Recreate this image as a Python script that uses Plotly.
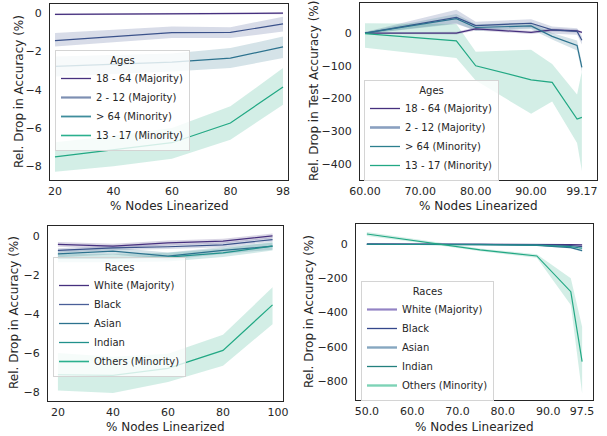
import plotly.graph_objects as go

# ---------------- data ----------------
ages_names = ["18 - 64 (Majority)", "2 - 12 (Majority)", "> 64 (Minority)", "13 - 17 (Minority)"]
race_names = ["White (Majority)", "Black", "Asian", "Indian", "Others (Minority)"]

# Panel A: Ages, accuracy drop
a_x = [20, 40, 60, 80, 98]
a_1864 = [-0.06, -0.05, -0.02, -0.03, 0.0]
a_1864_lo = [-0.11, -0.10, -0.07, -0.08, -0.05]
a_1864_hi = [-0.01, 0.0, 0.03, 0.02, 0.05]
a_212 = [-1.43, -1.22, -1.01, -1.0, -0.56]
a_212_lo = [-1.74, -1.52, -1.30, -1.30, -0.96]
a_212_hi = [-1.04, -0.87, -0.70, -0.73, -0.18]
a_64 = [-2.78, -2.66, -2.55, -2.34, -1.76]
a_64_lo = [-3.30, -3.17, -3.04, -2.86, -2.34]
a_64_hi = [-2.26, -2.18, -2.10, -1.82, -1.22]
a_1317 = [-7.5, -7.12, -6.76, -5.73, -3.85]
a_1317_lo = [-8.28, -7.99, -7.6, -6.6, -4.78]
a_1317_hi = [-6.74, -6.39, -5.99, -4.86, -2.86]

# Panel B: Ages, test accuracy drop
b_x = [60, 76.5, 80, 90, 93.8, 98.3, 99.17]
b_1864 = [0, 0, 13, 2, 10, 7, 2]
b_1864_lo = [-2, -4, 8, -3, 5, 2, -1]
b_1864_hi = [2, 4, 18, 7, 15, 12, 5]
b_212 = [0, 48, 23, 30, 10, 5, -22]
b_212_lo = [-3, 28, 8, 15, -2, -5, -35]
b_212_hi = [3, 71, 35, 42, 20, 15, -10]
b_64 = [0, 44, 17, 22, -10, -38, -105]
b_64_lo = [-3, 30, 7, 12, -20, -53, -120]
b_64_hi = [3, 58, 27, 32, 0, -23, -90]
b_1317 = [-2, -24, -100, -143, -151, -263, -258]
b_1317_lo = [-45, -76, -145, -247, -209, -336, -422]
b_1317_hi = [30, 28, -57, -51, -95, -188, -117]

# Panel C: Races, accuracy drop
c_x = [20, 40, 60, 80, 98]
c_white = [-0.44, -0.53, -0.36, -0.27, 0.0]
c_white_lo = [-0.56, -0.65, -0.48, -0.39, -0.12]
c_white_hi = [-0.32, -0.41, -0.24, -0.15, 0.12]
c_black = [-0.75, -0.62, -0.56, -0.46, -0.19]
c_black_lo = [-0.87, -0.74, -0.68, -0.58, -0.31]
c_black_hi = [-0.63, -0.50, -0.44, -0.34, -0.07]
c_asian = [-0.92, -0.78, -1.04, -0.75, -0.53]
c_asian_lo = [-1.10, -0.96, -1.22, -0.93, -0.71]
c_asian_hi = [-0.74, -0.60, -0.86, -0.57, -0.35]
c_indian = [-1.14, -1.14, -1.09, -0.87, -0.53]
c_indian_lo = [-1.36, -1.36, -1.31, -1.09, -0.75]
c_indian_hi = [-0.92, -0.92, -0.87, -0.65, -0.31]
c_others = [-7.12, -7.15, -6.79, -5.87, -3.54]
c_others_lo = [-7.93, -8.05, -7.49, -6.66, -4.53]
c_others_hi = [-6.0, -6.2, -6.05, -5.07, -2.64]

# Panel D: Races, accuracy drop (large range)
d_x = [50, 62.5, 75, 87.5, 95, 97.5]
d_white = [-1, -1, -1, -2, -4, -6]
d_white_lo = [-3, -3, -3, -4, -7, -10]
d_white_hi = [1, 1, 1, 0, -1, -2]
d_black = [-1, -2, -2, -4, -9, -16]
d_black_lo = [-3, -4, -4, -6, -12, -21]
d_black_hi = [1, 0, 0, -2, -6, -11]
d_asian = [-2, -2, -3, -8, -22, -39]
d_asian_lo = [-4, -4, -5, -11, -27, -46]
d_asian_hi = [0, 0, -1, -5, -17, -32]
d_indian = [-2, -3, -4, -7, -16, -25]
d_indian_lo = [-4, -5, -6, -10, -21, -31]
d_indian_hi = [0, -1, -2, -4, -11, -19]
d_others = [58, 12, -35, -70, -278, -686]
d_others_lo = [46, 4, -43, -80, -355, -870]
d_others_hi = [70, 20, -27, -60, -200, -482]

a_xticks = [20, 40, 60, 80, 98]
b_xticks = [60, 70, 80, 90, 99.17]
b_xticktext = ["60.00", "70.00", "80.00", "90.00", "99.17"]
c_xticks = [20, 40, 60, 80, 100]
d_xticks = [50, 60, 70, 80, 90, 97.5]
d_xticktext = ["50.0", "60.0", "70.0", "80.0", "90.0", "97.5"]

x_title = "% Nodes Linearized"
y_title = "Rel. Drop in Accuracy (%)"
y_title_test = "Rel. Drop in Test Accuracy (%)"

# ---------------- style ----------------
FONT = "DejaVu Sans"
INK = "#262626"
W, H = 607, 436
ages_colors = ["#46307e", "#3b528b", "#2c728e", "#22a884"]
ages_legend_colors = ["#46307e", "#7d8fb2", "#3f8d9c", "#2bb08e"]
ages_legend_widths = [1.3, 2.2, 1.8, 1.6]
b_legend_colors = ["#46307e", "#8aa0c0", "#2c7f8e", "#22a884"]
b_legend_widths = [1.3, 2.6, 1.3, 1.3]
race_colors = ["#46307e", "#3b528b", "#2c728e", "#21918c", "#22a884"]
c_legend_colors = ["#46307e", "#4a5f98", "#2c728e", "#21918c", "#2bb08e"]
c_legend_widths = [1.3, 1.3, 1.3, 1.3, 1.6]
d_legend_colors = ["#9383c4", "#34478b", "#86a7c0", "#23807e", "#7dd3b6"]
d_legend_widths = [2.2, 1.3, 2.4, 1.3, 2.4]


def rgba(h, a):
    h = h.lstrip("#")
    return "rgba(%d,%d,%d,%.2f)" % (int(h[0:2], 16), int(h[2:4], 16), int(h[4:6], 16), a)


fig = go.Figure()


def add_panel(sfx, legend, x, series, colors, names, lg_colors, lg_widths):
    xa, ya = "x" + sfx, "y" + sfx
    for (y, lo, hi), c in zip(series, colors):
        fig.add_trace(go.Scatter(x=x, y=hi, xaxis=xa, yaxis=ya, mode="lines",
                                 line=dict(width=0, color=c), showlegend=False, hoverinfo="skip"))
        fig.add_trace(go.Scatter(x=x, y=lo, xaxis=xa, yaxis=ya, mode="lines",
                                 line=dict(width=0, color=c), fill="tonexty",
                                 fillcolor=rgba(c, 0.2), showlegend=False, hoverinfo="skip"))
    for (y, lo, hi), c in zip(series, colors):
        fig.add_trace(go.Scatter(x=x, y=y, xaxis=xa, yaxis=ya, mode="lines",
                                 line=dict(width=1.2, color=c), showlegend=False))
    for n, lc, lw in zip(names, lg_colors, lg_widths):
        fig.add_trace(go.Scatter(x=[None], y=[None], xaxis=xa, yaxis=ya, mode="lines",
                                 line=dict(width=lw, color=lc), name=n, legend=legend))


add_panel("", "legend", a_x,
          [(a_1864, a_1864_lo, a_1864_hi), (a_212, a_212_lo, a_212_hi),
           (a_64, a_64_lo, a_64_hi), (a_1317, a_1317_lo, a_1317_hi)],
          ages_colors, ages_names, ages_legend_colors, ages_legend_widths)
add_panel("2", "legend2", b_x,
          [(b_1864, b_1864_lo, b_1864_hi), (b_212, b_212_lo, b_212_hi),
           (b_64, b_64_lo, b_64_hi), (b_1317, b_1317_lo, b_1317_hi)],
          ages_colors, ages_names, b_legend_colors, b_legend_widths)
add_panel("3", "legend3", c_x,
          [(c_white, c_white_lo, c_white_hi), (c_black, c_black_lo, c_black_hi),
           (c_asian, c_asian_lo, c_asian_hi), (c_indian, c_indian_lo, c_indian_hi),
           (c_others, c_others_lo, c_others_hi)],
          race_colors, race_names, c_legend_colors, c_legend_widths)
add_panel("4", "legend4", d_x,
          [(d_white, d_white_lo, d_white_hi), (d_black, d_black_lo, d_black_hi),
           (d_asian, d_asian_lo, d_asian_hi), (d_indian, d_indian_lo, d_indian_hi),
           (d_others, d_others_lo, d_others_hi)],
          race_colors, race_names, d_legend_colors, d_legend_widths)


def axis(domain, rng, anchor, standoff, **kw):
    d = dict(domain=domain, range=rng, anchor=anchor, showline=True, mirror=True,
             linecolor=INK, linewidth=1.25, showgrid=False, zeroline=False, ticks="",
             tickfont=dict(size=11, color=INK, family=FONT), automargin=False,
             ticklabelstandoff=standoff)
    d.update(kw)
    return d


def xd(l, r):
    return [l / W, r / W]


def yd(top, bot):
    return [1 - bot / H, 1 - top / H]


def legend(x, y, title):
    return dict(x=x / W, y=1 - y / H, xanchor="left", yanchor="top",
                bgcolor="rgba(255,255,255,0.8)", bordercolor="#d4d4d4", borderwidth=1,
                font=dict(size=10, color=INK, family=FONT), traceorder="normal",
                title=dict(text=title, side="top center", font=dict(size=10, color=INK, family=FONT)),
                itemwidth=30, tracegroupgap=0)


def title_ann(text, px, py, angle=0):
    return dict(text=text, x=px / W, y=1 - py / H, xref="paper", yref="paper",
                xanchor="center", yanchor="middle", showarrow=False, textangle=angle,
                borderpad=0, font=dict(size=12, color=INK, family=FONT))


fig.update_layout(
    width=W, height=H, margin=dict(l=0, r=0, t=0, b=0),
    paper_bgcolor="white", plot_bgcolor="white",
    font=dict(family=FONT, color=INK),
    xaxis=axis(xd(50, 288), [18.3, 99.7], "y", 1, tickvals=a_xticks),
    yaxis=axis(yd(4, 179.5), [-8.68, 0.48], "x", 5, tickvals=[0, -2, -4, -6, -8]),
    xaxis2=axis(xd(360, 597), [59.1, 101.9], "y2", 1, tickvals=b_xticks, ticktext=b_xticktext),
    yaxis2=axis(yd(3, 179.5), [-448, 92], "x2", 5, tickvals=[0, -100, -200, -300, -400]),
    xaxis3=axis(xd(48, 283), [16.4, 101.8], "y3", 1, tickvals=c_xticks),
    yaxis3=axis(yd(225.5, 400.5), [-8.44, 0.53], "x3", 5, tickvals=[0, -2, -4, -6, -8]),
    xaxis4=axis(xd(356, 593), [47.6, 99.9], "y4", 1, tickvals=d_xticks, ticktext=d_xticktext),
    yaxis4=axis(yd(223.5, 400), [-909, 119], "x4", 5, tickvals=[0, -200, -400, -600, -800]),
    legend=legend(55, 50, "Ages"),
    legend2=legend(364, 80, "Ages"),
    legend3=legend(53, 257, "Races"),
    legend4=legend(361, 281, "Races"),
    annotations=[
        title_ann(x_title, 169, 206),
        title_ann(x_title, 478.5, 205.5),
        title_ann(x_title, 165.5, 426.5),
        title_ann(x_title, 474.5, 426.5),
        title_ann(y_title, 19, 92, -90),
        title_ann(y_title_test, 314, 91, -90),
        title_ann(y_title, 14, 313, -90),
        title_ann(y_title, 309, 312, -90),
    ],
)

fig.write_html("out.html", config={"displayModeBar": False},
               post_script="document.body.style.margin='0';")
